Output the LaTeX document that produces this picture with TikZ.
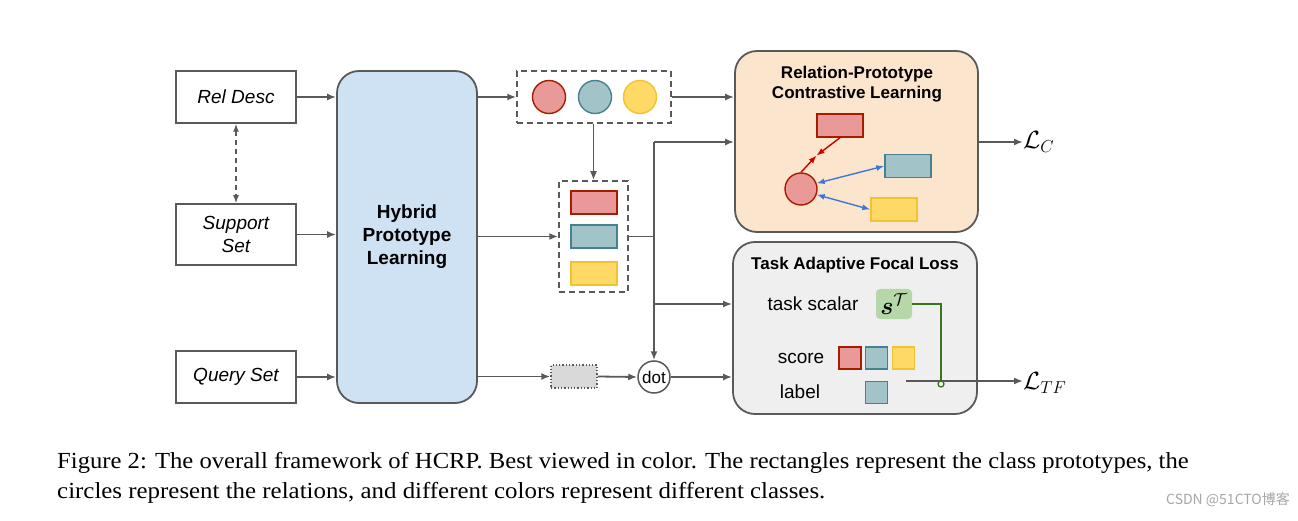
\documentclass[tikz,border=0pt]{standalone}
\usepackage{amsmath,bm}
\usepackage{fontspec}
\setmainfont{Liberation Serif}
\setsansfont{Liberation Sans}
\newfontfamily\cjk{Noto Sans CJK SC}
\usetikzlibrary{arrows.meta}
\definecolor{lineg}{HTML}{595959}
\definecolor{hybfill}{HTML}{CFE2F3}
\definecolor{relfill}{HTML}{FCE5CD}
\definecolor{taskfill}{HTML}{EFEFEF}
\definecolor{grnfill}{HTML}{B6D7A8}
\definecolor{grnline}{HTML}{38761D}
\definecolor{redfill}{HTML}{EA9999}
\definecolor{redline}{HTML}{A61C00}
\definecolor{tealfill}{HTML}{A2C4C9}
\definecolor{tealline}{HTML}{45818E}
\definecolor{yelfill}{HTML}{FFD966}
\definecolor{yelline}{HTML}{F1C232}
\definecolor{bluearr}{HTML}{3C78D8}
\definecolor{redarr}{HTML}{CC0000}
\tikzset{
  arr/.style={draw=lineg, line width=1.8pt, -{Latex[length=9pt,width=7pt]}},
  plainln/.style={draw=lineg, line width=1.8pt},
  inbox/.style={draw=lineg, line width=1.5pt, fill=white, minimum width=120pt, font=\fontsize{19}{23}\selectfont\sffamily\itshape, align=center, inner sep=0pt},
  bigbox/.style={draw=lineg, line width=1.8pt, rounded corners=22pt, inner sep=0pt},
  dbox/.style={draw=lineg, line width=1.5pt, dashed, dash pattern=on 6pt off 4pt, inner sep=0pt},
  redc/.style={circle, draw=redline, line width=1.4pt, fill=redfill, minimum size=33pt, inner sep=0pt},
  tealc/.style={circle, draw=tealline, line width=1.4pt, fill=tealfill, minimum size=33pt, inner sep=0pt},
  yelc/.style={circle, draw=yelline, line width=1.4pt, fill=yelfill, minimum size=33pt, inner sep=0pt},
  redr/.style={draw=redline, line width=1.4pt, fill=redfill, minimum width=46pt, minimum height=23pt, inner sep=0pt},
  tealr/.style={draw=tealline, line width=1.4pt, fill=tealfill, minimum width=46pt, minimum height=23pt, inner sep=0pt},
  yelr/.style={draw=yelline, line width=1.4pt, fill=yelfill, minimum width=46pt, minimum height=23pt, inner sep=0pt},
  sq/.style={line width=1.4pt, minimum width=22pt, minimum height=22pt, inner sep=0pt},
  lbl/.style={font=\fontsize{19}{23}\selectfont\sffamily, inner sep=0pt},
  ttl/.style={font=\fontsize{17}{20.5}\selectfont\sffamily\bfseries, align=center, inner sep=0pt},
  captxt/.style={font=\fontsize{23}{30}\selectfont, anchor=west, inner sep=0pt},
}
\begin{document}
\begin{tikzpicture}[x=1pt,y=-1pt]
\useasboundingbox[fill=white] (0,0) rectangle (1298,521);

% left inputs
\node[inbox, minimum height=52pt] (rel) at (236,97) {Rel Desc};
\node[inbox, minimum height=61pt] (sup) at (236,234.5) {Support\\Set};
\node[inbox, minimum height=52pt] (qry) at (236,377) {Query Set};
\draw[draw=lineg, line width=1.5pt, dashed, dash pattern=on 5pt off 4pt, {Latex[length=8pt,width=6pt]}-{Latex[length=8pt,width=6pt]}] (rel.south) -- (sup.north);

% hybrid
\node[bigbox, fill=hybfill, minimum width=140pt, minimum height=332pt, font=\fontsize{19}{23}\selectfont\sffamily\bfseries, align=center] (hyb) at (407,237) {Hybrid\\Prototype\\Learning};
\draw[arr] (rel.east) -- (rel.east -| hyb.west);
\draw[arr] (sup.east) -- (sup.east -| hyb.west);
\draw[arr] (qry.east) -- (qry.east -| hyb.west);

% relation circles
\node[dbox, minimum width=154pt, minimum height=52pt] (cbox) at (594,97) {};
\node[redc] (c1) at (549,97) {};
\node[tealc] (c2) at (595,97) {};
\node[yelc] (c3) at (640,97) {};
\draw[arr] (hyb.east |- cbox.west) -- (cbox.west);

% prototype rectangles
\node[dbox, minimum width=69pt, minimum height=111pt] (rbox) at (593.5,236.5) {};
\node[redr] (r1) at (594,202.5) {};
\node[tealr] (r2) at (594,236.5) {};
\node[yelr] (r3) at (594,273.5) {};
\draw[arr] (cbox.south -| rbox.north) -- (rbox.north);
\draw[arr] (hyb.east |- rbox.west) -- (rbox.west);

% query path
\node[draw=lineg, line width=1.3pt, dotted, fill=black!15, minimum width=46pt, minimum height=23pt, inner sep=0pt] (gbox) at (574,376.5) {};
\node[circle, draw=lineg, line width=1.5pt, fill=white, minimum size=32pt, inner sep=0pt, font=\fontsize{17}{20}\selectfont\sffamily] (dot) at (654,377) {dot};
\draw[arr] (hyb.east |- gbox.west) -- (gbox.west);
\draw[arr] (gbox.east) -- (dot.west);

% relation-prototype contrastive learning box
\node[bigbox, fill=relfill, minimum width=243pt, minimum height=181pt] (rcl) at (856.5,141.5) {};
\node[ttl] (rclt) at (857,84) {Relation-Prototype\\Contrastive Learning};
\node[redr] (pr) at (840,125.5) {};
\node[tealr] (pt) at (908,166) {};
\node[yelr] (py) at (894,209.5) {};
\node[redc, minimum size=32pt] (pc) at (801,189) {};
\coordinate (mid) at (816.5,155.5);
\draw[draw=redarr, line width=1.4pt, -{Latex[length=8pt,width=6pt]}] (pr.south) -- (mid);
\draw[draw=redarr, line width=1.4pt, -{Latex[length=8pt,width=6pt]}] (pc.north) -- (mid);
\draw[draw=bluearr, line width=1.4pt, {Latex[length=8pt,width=6pt]}-{Latex[length=8pt,width=6pt]}] (pc.20) -- (pt.west);
\draw[draw=bluearr, line width=1.4pt, {Latex[length=8pt,width=6pt]}-{Latex[length=8pt,width=6pt]}] (pc.-20) -- (py.west);

% task adaptive focal loss box
\node[bigbox, fill=taskfill, minimum width=244pt, minimum height=172pt] (tfl) at (855,328) {};
\node[ttl] (tflt) at (855,265) {Task Adaptive Focal Loss};
\node[lbl] (tsl) at (813,304) {task scalar};
\node[fill=grnfill, rounded corners=4pt, minimum width=36pt, minimum height=30pt, inner sep=0pt, font=\fontsize{23}{24}\selectfont] (st) at (894,304) {$\bm{s}^{\mathcal{T}}$};
\node[lbl] (scl) at (801,358) {score};
\node[sq, redr, minimum width=22pt, minimum height=22pt] (s1) at (850,358) {};
\node[sq, tealr, minimum width=22pt, minimum height=22pt] (s2) at (876.5,358) {};
\node[sq, yelr, minimum width=22pt, minimum height=22pt] (s3) at (903.5,358) {};
\node[lbl] (lbl) at (800,392) {label};
\node[sq, tealr, minimum width=22pt, minimum height=22pt] (l1) at (876.5,392.5) {};

% junction lines
\coordinate (jr) at (654,236.5);
\coordinate (j1) at (654,142);
\coordinate (j2) at (654,304);
\draw[plainln] (rbox.east) -- (jr);
\draw[arr] (j1) -- (dot.north);
\draw[arr] (j1) -- (j1 -| rcl.west);
\draw[arr] (j2) -- (j2 -| tfl.west);
\draw[arr] (cbox.east) -- (cbox.east -| rcl.west);
\draw[arr] (dot.east) -- (dot.east -| tfl.west);

% outputs
\node[inner sep=0pt, font=\fontsize{25}{26}\selectfont, anchor=west] (lc) at (1023,142) {$\mathcal{L}_C$};
\draw[arr] (rcl.east |- lc.west) -- (lc.west);
\coordinate (ts) at (906,381);
\coordinate (gj) at (941,381);
\node[inner sep=0pt, font=\fontsize{25}{26}\selectfont, anchor=west] (ltf) at (1023,383) {$\mathcal{L}_{TF}$};
\draw[arr] (ts) -- (ts -| ltf.west);
\draw[draw=grnline, line width=1.5pt] (st.east) -- (st.east -| gj) -- ([yshift=-3pt]gj);
\draw[draw=grnline, line width=1.3pt, fill=taskfill] ([yshift=-3pt]gj) circle (3pt);

% caption
\node[captxt, xscale=1.071] (cap1) at (57,463) {Figure 2: The overall framework of HCRP. Best viewed in color. The rectangles represent the class prototypes, the};
\node[captxt, xscale=1.082] (cap2) at (57,493) {circles represent the relations, and different colors represent different classes.};
\node[anchor=east, inner sep=0pt, text=black!35, font=\fontsize{14}{16}\selectfont\cjk] (wm) at (1290,500) {CSDN @51CTO博客};
\end{tikzpicture}
\end{document}
